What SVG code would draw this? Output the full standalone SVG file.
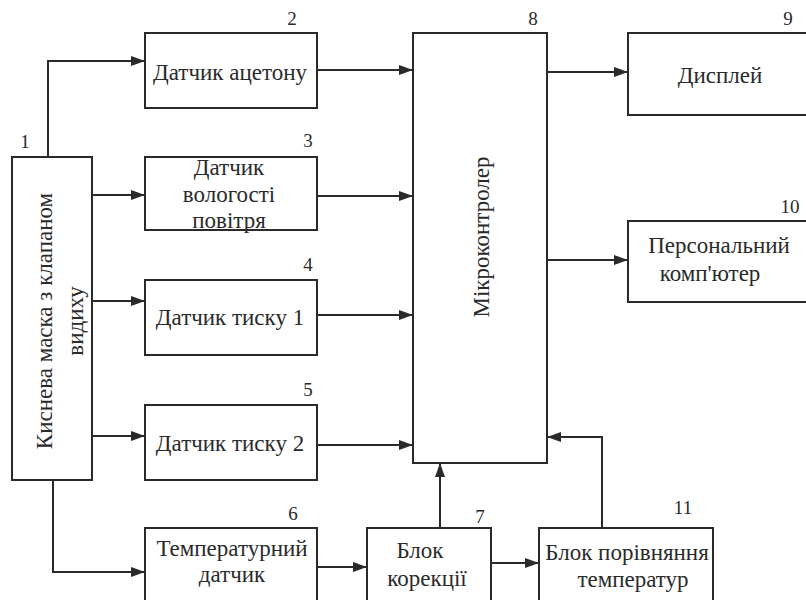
<svg xmlns="http://www.w3.org/2000/svg" width="806" height="600" viewBox="0 0 806 600">
<defs>
<style>
.box{fill:#fff;stroke:#2a2a2a;stroke-width:2}
.c{fill:none;stroke:#2a2a2a;stroke-width:2;marker-end:url(#ah)}
</style>
<marker id="ah" viewBox="0 0 14 10" refX="14" refY="5" markerWidth="14" markerHeight="10" markerUnits="userSpaceOnUse" orient="auto">
<path d="M0,0 L14,5 L0,10 Z" fill="#2a2a2a"/>
</marker>
</defs>
<rect width="806" height="600" fill="#fff"/>
<g id="connectors">
<path class="c" d="M48,157 V61 H145"/>
<path class="c" d="M92,195 H145"/>
<path class="c" d="M92,301 H145"/>
<path class="c" d="M92,436 H145"/>
<path class="c" d="M53,480 V572 H145"/>
<path class="c" d="M317,70 H413"/>
<path class="c" d="M317,196 H413"/>
<path class="c" d="M317,315 H413"/>
<path class="c" d="M317,445 H413"/>
<path class="c" d="M547,72 H628"/>
<path class="c" d="M547,260 H628"/>
<path class="c" d="M317,567 H367"/>
<path class="c" d="M440,528 V463"/>
<path class="c" d="M491,563 H539"/>
<path class="c" d="M602,528 V437 H547"/>
</g>
<g id="n1">
<rect class="box" x="12" y="157" width="80" height="323"/>
<text style="font-family:'Liberation Serif',serif;font-size:19px;fill:#2a2a2a;text-anchor:middle" x="25" y="148">1</text>
<text style="font-family:'Liberation Serif',serif;font-size:23px;fill:#2a2a2a;text-anchor:middle" transform="translate(52,321) rotate(-90)">Киснева маска з клапаном</text>
<text style="font-family:'Liberation Serif',serif;font-size:23px;fill:#2a2a2a;text-anchor:middle" transform="translate(83,321) rotate(-90)">видиху</text>
</g>
<g id="n2">
<rect class="box" x="145" y="33" width="172" height="75"/>
<text style="font-family:'Liberation Serif',serif;font-size:19px;fill:#2a2a2a;text-anchor:middle" x="292" y="25">2</text>
<text style="font-family:'Liberation Serif',serif;font-size:23px;fill:#2a2a2a;text-anchor:middle" x="230" y="80">Датчик ацетону</text>
</g>
<g id="n3">
<rect class="box" x="145" y="157" width="172" height="73"/>
<text style="font-family:'Liberation Serif',serif;font-size:19px;fill:#2a2a2a;text-anchor:middle" x="308" y="147">3</text>
<text style="font-family:'Liberation Serif',serif;font-size:23px;fill:#2a2a2a;text-anchor:middle" x="229" y="175">Датчик</text>
<text style="font-family:'Liberation Serif',serif;font-size:23px;fill:#2a2a2a;text-anchor:middle" x="229" y="202">вологості</text>
<text style="font-family:'Liberation Serif',serif;font-size:23px;fill:#2a2a2a;text-anchor:middle" x="229" y="228">повітря</text>
</g>
<g id="n4">
<rect class="box" x="145" y="280" width="172" height="75"/>
<text style="font-family:'Liberation Serif',serif;font-size:19px;fill:#2a2a2a;text-anchor:middle" x="308" y="271">4</text>
<text style="font-family:'Liberation Serif',serif;font-size:23px;fill:#2a2a2a;text-anchor:middle" x="230" y="325">Датчик тиску 1</text>
</g>
<g id="n5">
<rect class="box" x="145" y="405" width="172" height="75"/>
<text style="font-family:'Liberation Serif',serif;font-size:19px;fill:#2a2a2a;text-anchor:middle" x="308" y="396">5</text>
<text style="font-family:'Liberation Serif',serif;font-size:23px;fill:#2a2a2a;text-anchor:middle" x="230" y="451">Датчик тиску 2</text>
</g>
<g id="n6">
<rect class="box" x="145" y="528" width="172" height="90"/>
<text style="font-family:'Liberation Serif',serif;font-size:19px;fill:#2a2a2a;text-anchor:middle" x="293" y="520">6</text>
<text style="font-family:'Liberation Serif',serif;font-size:23px;fill:#2a2a2a;text-anchor:middle" x="232" y="556">Температурний</text>
<text style="font-family:'Liberation Serif',serif;font-size:23px;fill:#2a2a2a;text-anchor:middle" x="232" y="582">датчик</text>
</g>
<g id="n7">
<rect class="box" x="367" y="528" width="124" height="90"/>
<text style="font-family:'Liberation Serif',serif;font-size:19px;fill:#2a2a2a;text-anchor:middle" x="480" y="523">7</text>
<text style="font-family:'Liberation Serif',serif;font-size:23px;fill:#2a2a2a;text-anchor:middle" x="420" y="558">Блок</text>
<text style="font-family:'Liberation Serif',serif;font-size:23px;fill:#2a2a2a;text-anchor:middle" x="427" y="586">корекції</text>
</g>
<g id="n8">
<rect class="box" x="413" y="33" width="134" height="430"/>
<text style="font-family:'Liberation Serif',serif;font-size:19px;fill:#2a2a2a;text-anchor:middle" x="533" y="25">8</text>
<text style="font-family:'Liberation Serif',serif;font-size:23px;fill:#2a2a2a;text-anchor:middle" transform="translate(489,237) rotate(-90)">Мікроконтролер</text>
</g>
<g id="n9">
<rect class="box" x="628" y="33" width="200" height="82"/>
<text style="font-family:'Liberation Serif',serif;font-size:19px;fill:#2a2a2a;text-anchor:middle" x="788" y="25">9</text>
<text style="font-family:'Liberation Serif',serif;font-size:23px;fill:#2a2a2a;text-anchor:middle" x="720" y="83">Дисплей</text>
</g>
<g id="n10">
<rect class="box" x="628" y="221" width="200" height="81"/>
<text style="font-family:'Liberation Serif',serif;font-size:19px;fill:#2a2a2a;text-anchor:middle" x="790" y="213">10</text>
<text style="font-family:'Liberation Serif',serif;font-size:23px;fill:#2a2a2a;text-anchor:middle" x="719" y="253">Персональний</text>
<text style="font-family:'Liberation Serif',serif;font-size:23px;fill:#2a2a2a;text-anchor:middle" x="710" y="281">комп'ютер</text>
</g>
<g id="n11">
<rect class="box" x="539" y="528" width="174" height="90"/>
<text style="font-family:'Liberation Serif',serif;font-size:19px;fill:#2a2a2a;text-anchor:middle" x="683" y="514">11</text>
<text style="font-family:'Liberation Serif',serif;font-size:23px;fill:#2a2a2a;text-anchor:middle" x="627" y="560">Блок порівняння</text>
<text style="font-family:'Liberation Serif',serif;font-size:23px;fill:#2a2a2a;text-anchor:middle" x="633" y="587">температур</text>
</g>
</svg>
